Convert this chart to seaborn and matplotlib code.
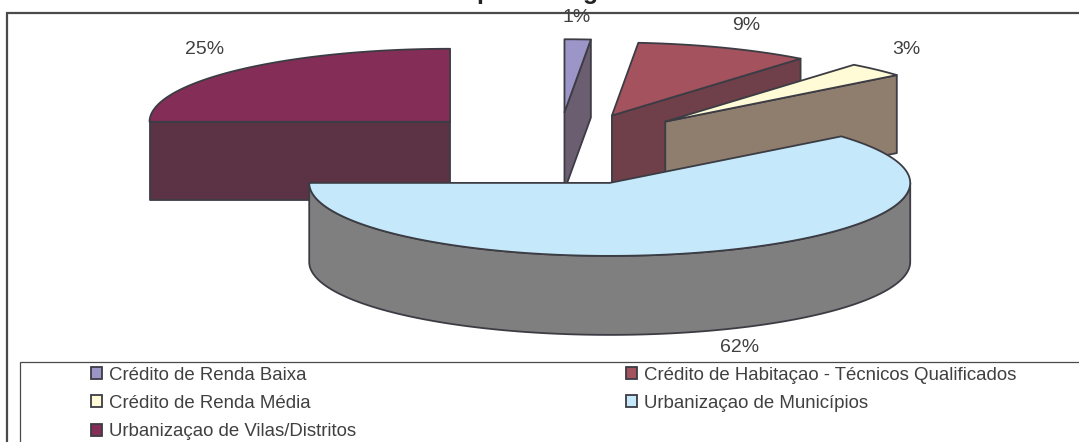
import numpy as np
import matplotlib
matplotlib.use("Agg")
import matplotlib.pyplot as plt
from matplotlib.patches import Patch, Polygon
import seaborn as sns

# %%
categories = [
    "Crédito de Renda Baixa",
    "Crédito de Habitaçao - Técnicos Qualificados",
    "Crédito de Renda Média",
    "Urbanizaçao de Municípios",
    "Urbanizaçao de Vilas/Distritos",
]
shares = [1.4, 9.4, 3.2, 61.0, 25.0]  # slice sizes
pct_labels = ["1%", "9%", "3%", "62%", "25%"]
top_colors = ["#9C95C8", "#A5525F", "#FFFBD6", "#C5E9FA", "#832D57"]
side_colors = ["#6B5E70", "#6F4049", "#8F7D6D", "#7F7F80", "#5C3245"]

# %%
sns.set_theme(style="white")
plt.rcParams["font.family"] = ["Liberation Sans", "DejaVu Sans"]

cx, cy = 558, 148
rx, ry = 300.5, 73
explode = [0.49, 0.48, 0.508, 0.508, 0.508]
depth = [78, 78, 78, 79, 78]
edge = "#3C3C44"
text_color = "#404040"
fs = 13.4

label_pos = [(577, 18), (746, 26), (906, 50), (739.5, 347.5), (205, 50)]

fig = plt.figure(figsize=(10.79, 4.42), dpi=100)
ax = fig.add_axes([0, 0, 1, 1])
ax.set_xlim(0, 1079)
ax.set_ylim(442, 0)
ax.set_axis_off()


def rim(x0, y0, a1, a2):
    # angles in degrees, clockwise from the top of the pie
    t = np.radians(np.linspace(a1, a2, max(int(abs(a2 - a1)) * 2, 2)))
    return np.column_stack([x0 + rx * np.sin(t), y0 - ry * np.cos(t)])


def draw_slice(i, a1, a2):
    mid = np.radians((a1 + a2) / 2)
    x0 = cx + explode[i] * rx * np.sin(mid)
    y0 = cy - explode[i] * ry * np.cos(mid)
    d = np.array([0, depth[i]])
    arc = rim(x0, y0, a1, a2)
    apex = np.array([x0, y0])
    kw = dict(edgecolor=edge, linewidth=1.3, joinstyle="round")

    # outer wall, only the front half of the rim shows
    lo, hi = max(a1, 90), min(a2, 270)
    if hi > lo:
        front = rim(x0, y0, lo, hi)
        ax.add_patch(Polygon(np.vstack([front, (front + d)[::-1]]), facecolor=side_colors[i], **kw))

    # cut faces
    if 0 < a2 % 360 < 180:
        p = rim(x0, y0, a2, a2)[0]
        ax.add_patch(Polygon([apex, p, p + d, apex + d], facecolor=side_colors[i], **kw))
    if 180 < a1 % 360 < 360:
        p = rim(x0, y0, a1, a1)[0]
        ax.add_patch(Polygon([apex, p, p + d, apex + d], facecolor=side_colors[i], **kw))

    ax.add_patch(Polygon(np.vstack([apex, arc]), facecolor=top_colors[i], **kw))


ends = np.cumsum(shares) / np.sum(shares) * 360
starts = np.concatenate([[0], ends[:-1]])

# back slices first, the big front one last
for i in [4, 0, 1, 2, 3]:
    draw_slice(i, starts[i], ends[i])

for lab, (x, y) in zip(pct_labels, label_pos):
    ax.text(x, y, lab, ha="center", va="center", fontsize=14, color=text_color)

# the title is cut off by the top of the picture, only descenders are left
ax.text(484, -0.5, "p", ha="center", va="baseline", fontsize=18, fontweight="bold", color="#222222")
ax.text(591, -0.5, "g", ha="center", va="baseline", fontsize=18, fontweight="bold", color="#222222")

# chart frame and legend frame run off the picture
ax.plot([7, 7, 1079], [442, 13, 13], color="#4A4A4A", lw=1.6, solid_joinstyle="miter")
ax.plot([19.5, 19.5, 1079], [442, 362, 362], color="#4A4A4A", lw=0.9, solid_joinstyle="miter")

order = [0, 2, 4, 1, 3]
handles = [Patch(facecolor=top_colors[i], edgecolor=edge, linewidth=1.3, label=categories[i]) for i in order]
ax.legend(
    handles=handles,
    ncol=2,
    loc="upper left",
    bbox_to_anchor=(91 / 1079, 1 - 366.5 / 442),
    bbox_transform=ax.transAxes,
    frameon=False,
    fontsize=fs,
    labelcolor=text_color,
    handlelength=0.6,
    handleheight=0.6,
    handletextpad=0.38,
    columnspacing=14.47,
    labelspacing=0.61,
    borderpad=0,
    borderaxespad=0,
)

plt.savefig("out.png", dpi=100)
